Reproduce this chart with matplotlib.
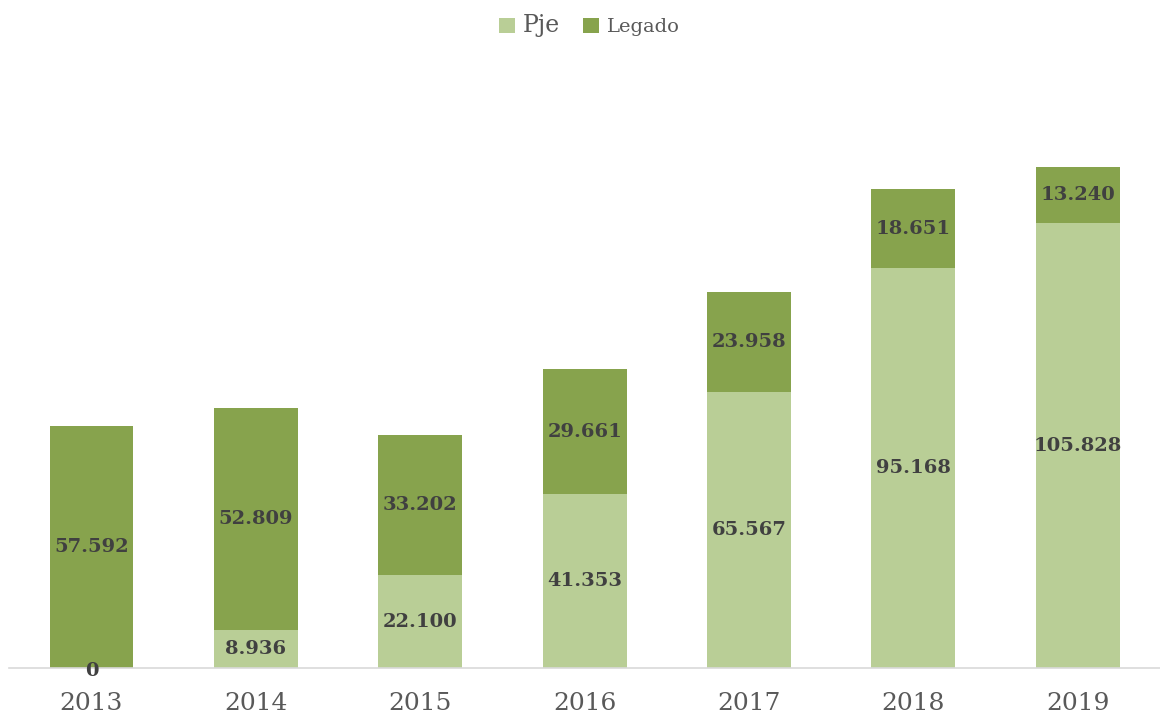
import numpy as np
import matplotlib.pyplot as plt

# data
years = ['2013', '2014', '2015', '2016', '2017', '2018', '2019']
pje = [0, 8936, 22100, 41353, 65567, 95168, 105828]
legado = [57592, 52809, 33202, 29661, 23958, 18651, 13240]

light = '#B9CE96'
dark = '#87A34D'

def fmt(v):
    return f'{v:,}'.replace(',', '.')

plt.rcParams['font.family'] = 'DejaVu Serif'

fig = plt.figure(figsize=(11.6, 7.18), dpi=100)
ax = fig.add_axes([0.008, 0.0696, 0.992, 0.82])

x = np.arange(len(years))
ax.bar(x, pje, width=0.51, color=light, label='Pje')
ax.bar(x, legado, width=0.51, bottom=pje, color=dark, label='Legado')

for i in range(len(years)):
    ypje = pje[i] / 2 if pje[i] > 0 else -700
    ax.text(x[i], ypje, fmt(pje[i]), ha='center', va='center',
            fontsize=14, fontweight='bold', color='#404040')
    ax.text(x[i], pje[i] + legado[i] / 2, fmt(legado[i]), ha='center', va='center',
            fontsize=14, fontweight='bold', color='#404040')

ax.set_xlim(-0.5, len(years) - 0.5)
ax.set_ylim(0, 140000)
ax.set_xticks(x)
ax.set_xticklabels(years, fontsize=18, color='#595959')
ax.tick_params(axis='x', length=0, pad=17)
ax.set_yticks([])
for s in ['top', 'right', 'left']:
    ax.spines[s].set_visible(False)
ax.spines['bottom'].set_color('#D9D9D9')
ax.spines['bottom'].set_linewidth(1.2)

leg = fig.legend(loc='upper center', bbox_to_anchor=(0.508, 1.005), ncol=2, frameon=False,
                 fontsize=14, handlelength=0.8, handleheight=0.8, handletextpad=0.4,
                 columnspacing=1.2)
for t in leg.get_texts():
    t.set_color('#595959')
leg.get_texts()[0].set_fontsize(17)

fig.savefig('out.png', dpi=100)
